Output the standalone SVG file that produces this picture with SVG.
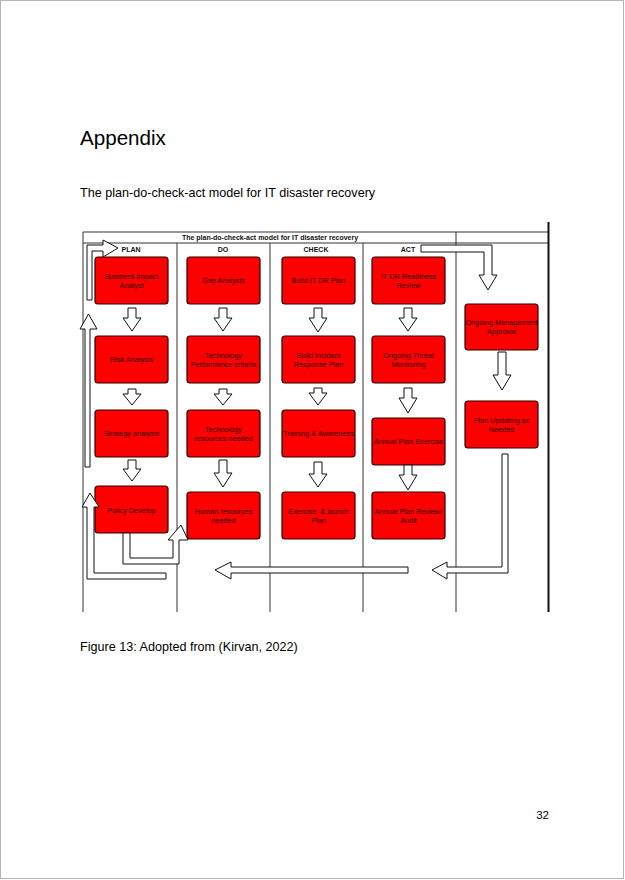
<svg xmlns="http://www.w3.org/2000/svg" width="625" height="880" viewBox="0 0 625 880">
<style>
.page{font-family:"Liberation Sans",Arial,sans-serif;fill:#000}
.grid{stroke:#333;stroke-width:1;fill:none}
.hdr{font-family:"Liberation Sans",Arial,sans-serif;font-size:7px;font-weight:bold;fill:#111;text-anchor:middle}
.box rect{fill:#ff0000;stroke:#2a0000;stroke-width:1.2}
.box text{font-family:"Liberation Sans",Arial,sans-serif;font-size:7.3px;fill:#2b0000;text-anchor:middle}
.arr path{fill:#fff;stroke:#111;stroke-width:1;stroke-linejoin:miter}
</style>
<rect x="0" y="0" width="625" height="880" fill="#fff"/>
<rect x="0.5" y="0.5" width="623" height="878" fill="none" stroke="#b5b5b5"/>
<text class="page" x="80" y="145" font-size="20.6">Appendix</text>
<text class="page" x="80" y="197" font-size="12.6">The plan-do-check-act model for IT disaster recovery</text>
<text class="page" x="80" y="651" font-size="12.6">Figure 13: Adopted from (Kirvan, 2022)</text>
<text class="page" x="549" y="819" font-size="11.5" text-anchor="end">32</text>

<g id="frame">
<path class="grid" d="M83 232H548M83 243H548M83 232V612M177 243V612M270 243V612M363 243V612M456 232V612"/>
<path d="M548.5 222V612" stroke="#111" stroke-width="2" fill="none"/>
<text class="hdr" x="270" y="240">The plan-do-check-act model for IT disaster recovery</text>
<text class="hdr" x="131" y="251.5">PLAN</text>
<text class="hdr" x="223" y="251.5">DO</text>
<text class="hdr" x="316" y="251.5">CHECK</text>
<text class="hdr" x="408" y="251.5">ACT</text>
</g>

<g id="n-bia" class="box"><rect x="95" y="257" width="73" height="47" rx="3"/><text x="131.5" y="278.5">Business Impact</text><text x="131.5" y="287.5">Analyst</text></g>
<g id="n-risk" class="box"><rect x="95" y="336" width="73" height="47" rx="3"/><text x="131.5" y="362">Risk Analysis</text></g>
<g id="n-strategy" class="box"><rect x="95" y="410" width="73" height="47" rx="3"/><text x="131.5" y="436">Strategy analysis</text></g>
<g id="n-policy" class="box"><rect x="95" y="486" width="73" height="47" rx="3"/><text x="131.5" y="512.5">Policy Develop</text></g>

<g id="n-gap" class="box"><rect x="187" y="257" width="73" height="47" rx="3"/><text x="223.5" y="283">Gap Analysis</text></g>
<g id="n-techperf" class="box"><rect x="187" y="336" width="73" height="47" rx="3"/><text x="223.5" y="357.5">Technology</text><text x="223.5" y="366.5">Performance criteria</text></g>
<g id="n-techres" class="box"><rect x="187" y="410" width="73" height="47" rx="3"/><text x="223.5" y="431.5">Technology</text><text x="223.5" y="440.5">resources needed</text></g>
<g id="n-human" class="box"><rect x="187" y="492" width="73" height="47" rx="3"/><text x="223.5" y="513.5">Human resources</text><text x="223.5" y="522.5">needed</text></g>

<g id="n-build" class="box"><rect x="282" y="257" width="73" height="47" rx="3"/><text x="318.5" y="283">Build IT DR Plan</text></g>
<g id="n-incident" class="box"><rect x="282" y="336" width="73" height="47" rx="3"/><text x="318.5" y="357.5">Build Incident</text><text x="318.5" y="366.5">Response Plan</text></g>
<g id="n-training" class="box"><rect x="282" y="410" width="73" height="47" rx="3"/><text x="318.5" y="436">Training &amp; Awareness</text></g>
<g id="n-exercise" class="box"><rect x="282" y="492" width="73" height="47" rx="3"/><text x="318.5" y="513.5" xml:space="preserve">Exercise  &amp; launch</text><text x="318.5" y="522.5">Plan</text></g>

<g id="n-readiness" class="box"><rect x="372" y="257" width="73" height="47" rx="3"/><text x="408.5" y="278.5">IT DR Readiness</text><text x="408.5" y="287.5">Review</text></g>
<g id="n-threat" class="box"><rect x="372" y="336" width="73" height="47" rx="3"/><text x="408.5" y="357.5">Ongoing Threat</text><text x="408.5" y="366.5">Monitoring</text></g>
<g id="n-annualex" class="box"><rect x="372" y="418" width="73" height="47" rx="3"/><text x="408.5" y="444">Annual Plan Exercise</text></g>
<g id="n-review" class="box"><rect x="372" y="492" width="73" height="47" rx="3"/><text x="408.5" y="513.5">Annual Plan Review/</text><text x="408.5" y="522.5">Audit</text></g>

<g id="n-mgmt" class="box"><rect x="465" y="304" width="73" height="46" rx="3"/><text x="501.5" y="325">Ongoing Management</text><text x="501.5" y="334">Approval</text></g>
<g id="n-update" class="box"><rect x="465" y="401" width="73" height="47" rx="3"/><text x="501.5" y="422.5">Plan Updating as</text><text x="501.5" y="431.5">Needed</text></g>

<g id="connectors" class="arr">
<path d="M128 308H136V318H141L132 331L123 318H128Z"/>
<path d="M128 389H136V394H141L132 405L123 394H128Z"/>
<path d="M128 460H136V469H141L132 481L123 469H128Z"/>
<path d="M219 308H227V318H232L223 331L214 318H219Z"/>
<path d="M219 389H227V394H232L223 405L214 394H219Z"/>
<path d="M219 460H227V473H232L223 487L214 473H219Z"/>
<path d="M314 308H322V318H327L318 332L309 318H314Z"/>
<path d="M314 388H322V393H327L318 405L309 393H314Z"/>
<path d="M314 462H322V474H327L318 487L309 474H314Z"/>
<path d="M404 308H412V318H417L408 331L399 318H404Z"/>
<path d="M404 388H412V398H417L408 413L399 398H404Z"/>
<path d="M404 465H412V475H417L408 490L399 475H404Z"/>
<path d="M498 352H506V375H511L502 390L493 375H498Z"/>
<path d="M421 245H492V275H497L488 290L479 275H484V252H421Z"/>
<path d="M502 454H508V573H447V579L432 570L447 562V567H502Z"/>
<path d="M408 567H231V562L215 570L231 579V573H408Z"/>
<path d="M87 300V245H103V240L118 248L103 257V251H92V300Z"/>
<path d="M85 467V329H80L88.5 314L97 329H90V467Z"/>
<path d="M166 573H94V507H99L90 493L82 507H87V579H166Z"/>
<path d="M123 533V564H179V540H188L181 525L168 540H173V558H130V533Z"/>
</g>
</svg>
